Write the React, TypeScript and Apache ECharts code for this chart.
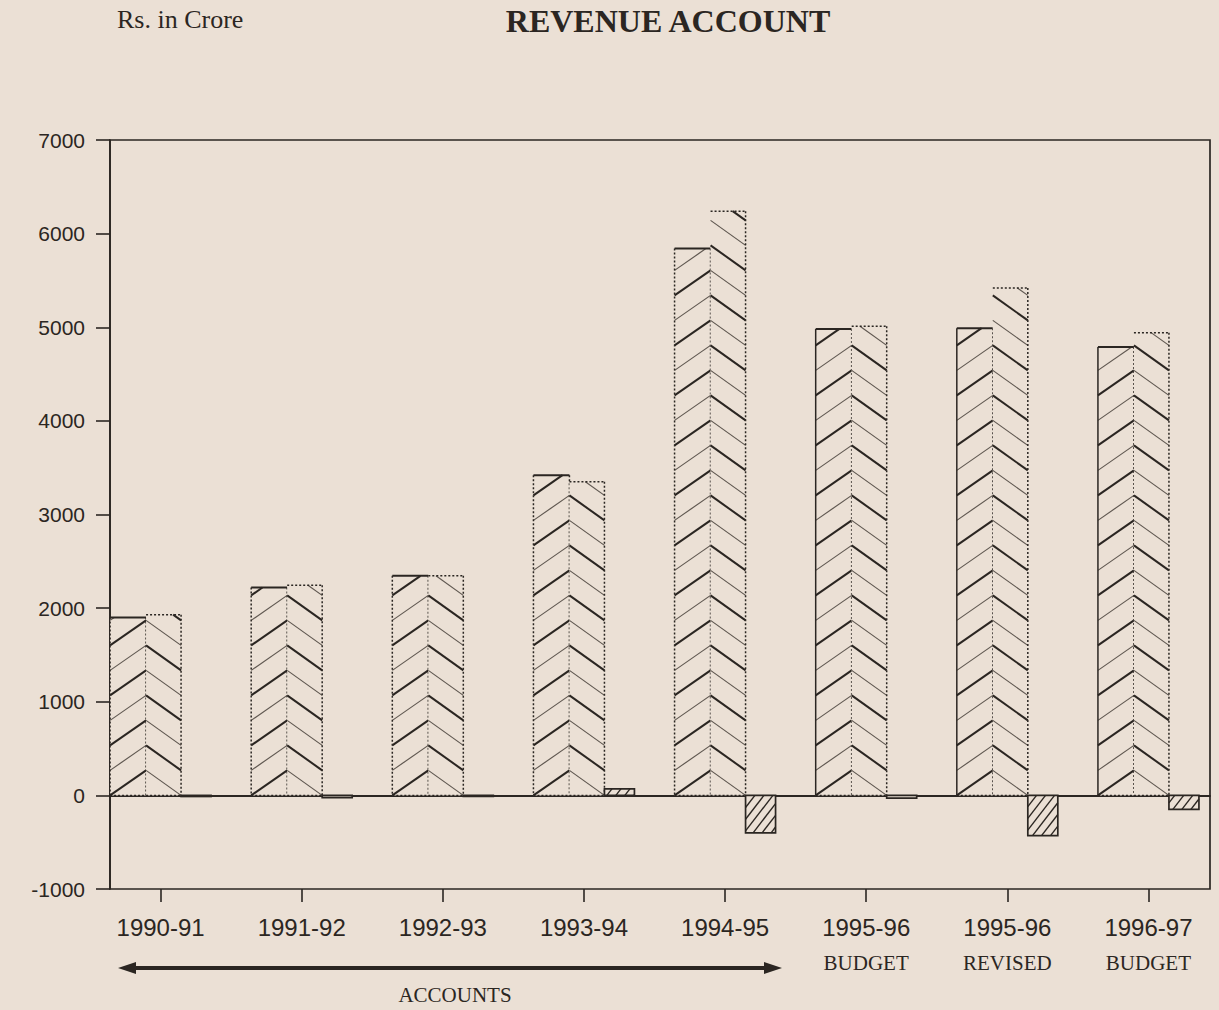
import React, { useEffect, useRef } from "react";
import * as echarts from "echarts";

// ---- data (Rs. in Crore) ----
const years = ["1990-91", "1991-92", "1992-93", "1993-94", "1994-95", "1995-96", "1995-96", "1996-97"];
const subLabels = ["", "", "", "", "", "BUDGET", "REVISED", "BUDGET"];
const revenueReceipts = [1900, 2220, 2345, 3420, 5840, 4980, 4990, 4790];
const revenueExpenditure = [1930, 2245, 2345, 3350, 6240, 5010, 5420, 4940];
const revenueBalance = [-12, -25, -4, 70, -400, -30, -430, -150];
const yMin = -1000;
const yMax = 7000;
const yStep = 1000;

const INK = "#2b2622";
const INK_LIGHT = "#5f5750";
const PAPER = "#ebe0d5";
const WIDTHS = [36, 35, 30];
const GROUP_W = WIDTHS[0] + WIDTHS[1] + WIDTHS[2];
const STEP = 25;

function clipSeg(x0: number, y0: number, x1: number, y1: number, rx0: number, ry0: number, rx1: number, ry1: number) {
  let t0 = 0, t1 = 1;
  const dx = x1 - x0, dy = y1 - y0;
  const p = [-dx, dx, -dy, dy];
  const q = [x0 - rx0, rx1 - x0, y0 - ry0, ry1 - y0];
  for (let i = 0; i < 4; i++) {
    if (p[i] === 0) {
      if (q[i] < 0) return null;
    } else {
      const r = q[i] / p[i];
      if (p[i] < 0) {
        if (r > t1) return null;
        if (r > t0) t0 = r;
      } else {
        if (r < t0) return null;
        if (r < t1) t1 = r;
      }
    }
  }
  if (t1 - t0 < 1e-6) return null;
  return [x0 + t0 * dx, y0 + t0 * dy, x0 + t1 * dx, y0 + t1 * dy];
}

function edge(x1: number, y1: number, x2: number, y2: number, dotted: boolean, w = 1.5) {
  return {
    type: "line",
    shape: { x1, y1, x2, y2 },
    style: { stroke: INK, lineWidth: dotted ? 1.5 : w, lineDash: dotted ? [2, 2] : null },
  };
}

function makeRender(kind: number) {
  return (params: any, api: any) => {
    const i = api.value(0) as number;
    const v = api.value(1) as number;
    const base = api.coord([i, 0]);
    const tip = api.coord([i, v]);
    const cx = base[0];
    const y0 = base[1];
    const y1 = tip[1];
    let xl = cx - GROUP_W / 2;
    for (let k = 0; k < kind; k++) xl += WIDTHS[k];
    const w = WIDTHS[kind];
    const xr = xl + w;
    const top = Math.min(y0, y1);
    const bottom = Math.max(y0, y1);
    const children: any[] = [];
    children.push({
      type: "rect",
      shape: { x: xl, y: top, width: w, height: bottom - top },
      style: { fill: PAPER, stroke: null },
    });
    if (kind === 0 || kind === 1) {
      const n = Math.ceil((bottom - top) / STEP) + 2;
      for (let k = 0; k <= n; k++) {
        const yb = y0 - k * STEP;
        const ya = yb - STEP;
        const seg = kind === 0
          ? clipSeg(xl, yb, xr, ya, xl, top, xr, bottom)
          : clipSeg(xl, ya, xr, yb, xl, top, xr, bottom);
        if (seg) {
          const bold = kind === 0 ? k % 2 === 0 : k % 2 === 1;
          children.push({
            type: "line",
            shape: { x1: seg[0], y1: seg[1], x2: seg[2], y2: seg[3] },
            style: { stroke: bold ? INK : INK_LIGHT, lineWidth: bold ? 2 : 1.2 },
          });
        }
      }
      if (kind === 0) {
        children.push(edge(xl, top, xr, top, false, 2));
        children.push(edge(xl, top, xl, bottom, i < 5));
        children.push(edge(xr, top, xr, bottom, true));
        children.push(edge(xl, bottom, xr, bottom, true));
      } else {
        children.push(edge(xl, top, xr, top, true));
        children.push(edge(xr, top, xr, bottom, true));
        children.push(edge(xl, bottom, xr, bottom, true));
      }
    } else {
      const h = bottom - top;
      if (h > 3) {
        for (let c = xl - h; c <= xr + 2; c += 9) {
          const seg = clipSeg(c - 60, bottom + 78, c + 60, bottom - 78, xl, top, xr, bottom);
          if (seg) {
            children.push({
              type: "line",
              shape: { x1: seg[0], y1: seg[1], x2: seg[2], y2: seg[3] },
              style: { stroke: INK, lineWidth: 1.4 },
            });
          }
        }
      }
      children.push({
        type: "rect",
        shape: { x: xl, y: top, width: w, height: Math.max(h, 1) },
        style: { fill: null, stroke: INK, lineWidth: 1.7 },
      });
    }
    return { type: "group", children };
  };
}

export default function App() {
  const ref = useRef<HTMLDivElement>(null);
  useEffect(() => {
    if (!ref.current) return;
    const chart = echarts.init(ref.current, null, { renderer: "svg" });
    const axisCats = years.map((y, i) => (subLabels[i] ? `${y}\n${subLabels[i]}` : y));
    const GRID_TOP = 140;
    const GRID_BOTTOM = 121;
    chart.setOption({
      animation: false,
      backgroundColor: PAPER,
      grid: [
        {
          left: 110, right: 9, top: GRID_TOP, bottom: GRID_BOTTOM,
          show: true, borderColor: INK, borderWidth: 1.7, backgroundColor: "transparent",
        },
        { left: 90, width: 1134, top: GRID_TOP, bottom: GRID_BOTTOM },
      ],
      xAxis: [
        {
          gridIndex: 0, type: "value", min: 0, max: 1,
          axisLine: { show: true, onZero: true, lineStyle: { color: INK, width: 2 } },
          axisTick: { show: false }, axisLabel: { show: false }, splitLine: { show: false },
        },
        {
          gridIndex: 1, type: "category", data: axisCats, position: "bottom",
          axisLine: { show: false, onZero: false },
          axisTick: { show: true, alignWithLabel: true, length: 13, lineStyle: { color: INK, width: 1.6 } },
          axisLabel: {
            margin: 21,
            interval: 0,
            formatter: (val: string) => {
              const [a, b] = val.split("\n");
              return b ? `{a|${a}}\n{b|${b}}` : `{a|${a}}`;
            },
            rich: {
              a: { fontFamily: "Liberation Sans", fontSize: 24, lineHeight: 34, color: INK },
              b: { fontFamily: "Liberation Serif", fontSize: 21, lineHeight: 38, color: INK },
            },
          },
          splitLine: { show: false },
        },
      ],
      yAxis: [
        {
          gridIndex: 0, type: "value", min: yMin, max: yMax, interval: yStep,
          axisLine: { show: true, lineStyle: { color: INK, width: 1.7 } },
          axisTick: { show: true, length: 14, lineStyle: { color: INK, width: 1.6 } },
          axisLabel: {
            margin: 25, fontFamily: "Liberation Sans", fontSize: 21, color: INK,
            formatter: (v: number) => String(v),
          },
          splitLine: { show: false },
        },
        {
          gridIndex: 1, type: "value", min: yMin, max: yMax, interval: yStep, show: false,
        },
      ],
      series: [
        {
          name: "Revenue Receipts", type: "custom", xAxisIndex: 1, yAxisIndex: 1,
          renderItem: makeRender(0), data: revenueReceipts.map((v, i) => [i, v]),
        },
        {
          name: "Revenue Expenditure", type: "custom", xAxisIndex: 1, yAxisIndex: 1,
          renderItem: makeRender(1), data: revenueExpenditure.map((v, i) => [i, v]),
        },
        {
          name: "Surplus / Deficit", type: "custom", xAxisIndex: 1, yAxisIndex: 1,
          renderItem: makeRender(2), data: revenueBalance.map((v, i) => [i, v]),
        },
      ],
      graphic: [
        {
          type: "text", x: 117, y: 6,
          style: {
            text: "Rs. in Crore", font: '26px "Liberation Serif"', fill: INK,
            textAlign: "left", textVerticalAlign: "top",
          },
        },
        {
          type: "text", x: 668, y: 5,
          style: {
            text: "REVENUE ACCOUNT", font: 'bold 32px "Liberation Serif"', fill: INK,
            textAlign: "center", textVerticalAlign: "top",
          },
        },
        {
          type: "line", shape: { x1: 130, y1: 968, x2: 770, y2: 968 },
          style: { stroke: INK, lineWidth: 4 },
        },
        {
          type: "polygon", shape: { points: [[118, 968], [136, 962], [136, 974]] },
          style: { fill: INK },
        },
        {
          type: "polygon", shape: { points: [[782, 968], [764, 962], [764, 974]] },
          style: { fill: INK },
        },
        {
          type: "text", x: 455, y: 984,
          style: {
            text: "ACCOUNTS", font: '21px "Liberation Serif"', fill: INK,
            textAlign: "center", textVerticalAlign: "top",
          },
        },
      ],
    });
    return () => chart.dispose();
  }, []);
  return (
    <div
      ref={ref}
      style={{ position: "absolute", left: 0, top: 0, width: 1219, height: 1010, background: PAPER }}
    />
  );
}
